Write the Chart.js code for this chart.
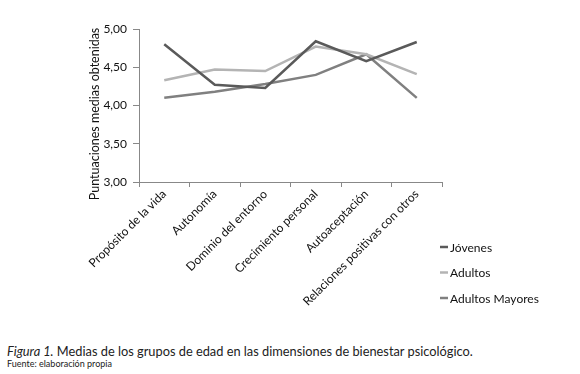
<!DOCTYPE html>
<html>
<head>
<meta charset="utf-8">
<script src="https://cdn.jsdelivr.net/npm/chart.js@4.4.1/dist/chart.umd.min.js"></script>
<style>
  html, body { margin: 0; padding: 0; background: #fff; }
  #wrap { position: relative; width: 580px; height: 374px; }
  #chart { position: absolute; left: 0; top: 0; }
  .cap { position: absolute; left: 7px; font-family: Lato, sans-serif; color: #222; white-space: nowrap; }
  #cap1 { top: 343px; font-size: 12.8px; }
  #cap2 { top: 358px; font-size: 9px; }
</style>
</head>
<body>
<div id="wrap">
  <canvas id="chart" width="580" height="320"></canvas>
  <div class="cap" id="cap1"><i>Figura 1.</i> Medias de los grupos de edad en las dimensiones de bienestar psicológico.</div>
  <div class="cap" id="cap2">Fuente: elaboración propia</div>
</div>
<script>
const categories = ['Propósito de la vida', 'Autonomía', 'Dominio del entorno', 'Crecimiento personal', 'Autoaceptación', 'Relaciones positivas con otros'];
const jovenes = [4.80, 4.27, 4.23, 4.84, 4.58, 4.83];
const adultos = [4.33, 4.47, 4.45, 4.77, 4.67, 4.41];
const mayores = [4.10, 4.18, 4.28, 4.40, 4.67, 4.10];
const yTicks = [3.0, 3.5, 4.0, 4.5, 5.0];
const yTitle = 'Puntuaciones medias obtenidas';

const FONT = 'Lato, sans-serif';

// legend off to the right under the plot + y title, placed like the original
const extras = {
  id: 'extras',
  afterDraw(chart) {
    const c = chart.ctx;
    c.save();
    c.font = '12px ' + FONT;
    c.textBaseline = 'middle';
    chart.data.datasets.forEach((ds, i) => {
      const y = 247 + i * 25.5;
      c.strokeStyle = ds.borderColor;
      c.lineWidth = 2.5;
      c.beginPath();
      c.moveTo(440, y);
      c.lineTo(448, y);
      c.stroke();
      c.fillStyle = '#111';
      c.fillText(ds.label, 450, y + 1);
    });
    c.translate(95, 114);
    c.rotate(-Math.PI / 2);
    c.textAlign = 'center';
    c.font = '12.5px ' + FONT;
    c.fillText(yTitle, 0, 0);
    c.restore();
  }
};

new Chart(document.getElementById('chart'), {
  type: 'line',
  data: {
    labels: categories,
    datasets: [
      { label: 'Jóvenes', data: jovenes, borderColor: '#5a5a5a' },
      { label: 'Adultos', data: adultos, borderColor: '#b4b4b4' },
      { label: 'Adultos Mayores', data: mayores, borderColor: '#808080' }
    ].map(d => Object.assign(d, { borderWidth: 2.5, pointRadius: 0, tension: 0, fill: false }))
  },
  options: {
    responsive: false,
    animation: false,
    layout: { padding: { left: 100, right: 138, top: 29, bottom: 0 } },
    plugins: { legend: { display: false }, tooltip: { enabled: false } },
    scales: {
      x: {
        offset: true,
        grid: { display: true, offset: true, drawOnChartArea: false, drawTicks: true, tickLength: 5, color: '#888' },
        border: { color: '#888' },
        ticks: { minRotation: 45, maxRotation: 45, padding: 0, color: '#111', font: { family: FONT, size: 12 } },
        afterFit(s) { s.height = 138; }
      },
      y: {
        min: 3, max: 5,
        afterBuildTicks(s) { s.ticks = yTicks.map(v => ({ value: v })); },
        grid: { display: true, drawOnChartArea: false, drawTicks: true, tickLength: 6, color: '#888' },
        border: { color: '#888' },
        ticks: {
          padding: 6, color: '#111', font: { family: FONT, size: 12 },
          callback: v => v.toFixed(2).replace('.', ',')
        },
        afterFit(s) { s.width = 39; }
      }
    }
  },
  plugins: [extras]
});
</script>
</body>
</html>
